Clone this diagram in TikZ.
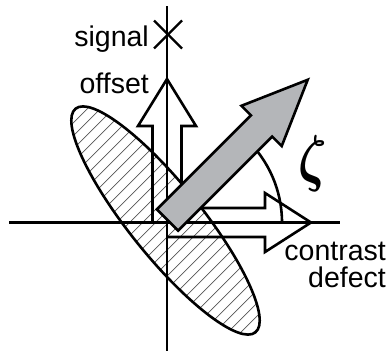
\documentclass[tikz,border=0pt]{standalone}
\usepackage{fontspec}
\setmainfont{Liberation Sans}
\definecolor{arrowgray}{RGB}{180,182,185}
\definecolor{hatchgray}{RGB}{85,85,85}
\begin{document}
\begin{tikzpicture}[x=1pt,y=-1pt,
  axis/.style={line width=2.8pt},
  outline/.style={line width=2.6pt, line join=miter},
  hatch/.style={line width=0.7pt, hatchgray},
  lbl/.style={inner sep=0pt, font=\fontsize{28.5}{30}\selectfont},
]
\useasboundingbox (0,0) rectangle (387,351);
\coordinate (O) at (167,222.5);
\coordinate (E) at (165.5,220.5);
\coordinate (T) at (167.5,220);
\coordinate (X) at (168,34.5);
\coordinate (vt) at (167,6);
\coordinate (vb) at (167,351);
\coordinate (hl) at (9,222.5);
\coordinate (hr) at (340,222.5);
% hatching inside the ellipse
\begin{scope}
  \clip[rotate around={-51.2:(E)}] (E) ellipse [x radius=143.5, y radius=36];
  \foreach \c in {170,183,...,610} \draw[hatch] (\c-360,360) -- (\c,0);
\end{scope}
\draw[outline, rotate around={-51.2:(E)}] (E) ellipse [x radius=143.5, y radius=36];
% axes
\draw[axis] (vt) -- (vb);
\draw[axis] (hl) -- (hr);
% cross on the vertical axis
\draw[axis, line width=2.4pt, shift={(X)}] (-14,-14) -- (14,14) (-14,14) -- (14,-14);
% white arrows (outline only)
\draw[outline, shift={(O)}] (-14.5,0) -- (-14.5,-96.5) -- (-29,-96.5) -- (0,-143.5)
   -- (29,-96.5) -- (14.5,-96.5) -- (14.5,0);
\draw[outline, shift={(O)}] (0,-14.5) -- (98,-14.5) -- (98,-29.5) -- (144,0)
   -- (98,29.5) -- (98,14.5) -- (0,14.5);
% angle arc
\draw[outline] (O) ++(115,0) arc[start angle=0, end angle=-47, radius=115];
% grey arrow
\draw[outline, fill=arrowgray, shift={(T)}, rotate=45] (0,-15) -- (133,-15) -- (133,-28.5)
   -- (198.3,0) -- (133,28.5) -- (133,15) -- (0,15) -- cycle;
% labels
\node[lbl, anchor=base east] (sig) at (149,46) {signal};
\node[lbl, anchor=base east] (off) at (149,93) {offset};
\node[lbl, anchor=base east] (con) at (386,260) {contrast};
\node[lbl, anchor=base east] (def) at (386,287) {defect};
\node[inner sep=0pt, xscale=5.0, yscale=6.3, font=\boldmath] (zeta) at (312.5,163.5) {$\zeta$};
\end{tikzpicture}
\end{document}
